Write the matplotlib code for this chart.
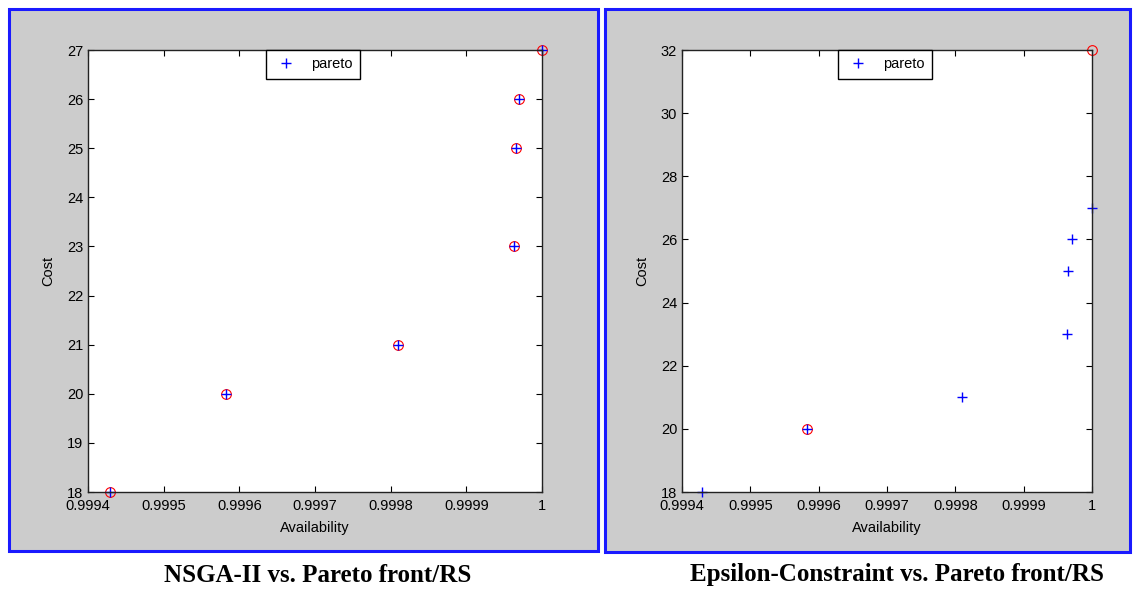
import matplotlib.pyplot as plt
from matplotlib.patches import Rectangle

# NSGA-II panel
nsga_avail = [0.999429, 0.999583, 0.99981, 0.999963, 0.999965, 0.99997, 1.0]
nsga_cost = [18, 20, 21, 23, 25, 26, 27]
rs_left_avail = [0.999429, 0.999583, 0.99981, 0.999963, 0.999965, 0.99997, 1.0]
rs_left_cost = [18, 20, 21, 23, 25, 26, 27]

# Epsilon-constraint panel
eps_avail = [0.999429, 0.999583, 0.99981, 0.999963, 0.999965, 0.99997, 1.0]
eps_cost = [18, 20, 21, 23, 25, 26, 27]
rs_right_avail = [0.999583, 1.0]
rs_right_cost = [20, 32]

x_ticks = [0.9994, 0.9995, 0.9996, 0.9997, 0.9998, 0.9999, 1.0]
x_labels = ["0.9994", "0.9995", "0.9996", "0.9997", "0.9998", "0.9999", "1"]
left_yticks = [18, 19, 20, 21, 22, 23, 24, 25, 26, 27]
right_yticks = [18, 20, 22, 24, 26, 28, 30, 32]

W, H = 1135, 590
plt.rcParams['font.family'] = ['Liberation Sans', 'DejaVu Sans']
fig = plt.figure(figsize=(W / 100, H / 100), dpi=100)


def px_rect(x0, y0, x1, y1):
    return [x0 / W, 1 - y1 / H, (x1 - x0) / W, (y1 - y0) / H]


# gray panels with blue frames, kept behind the axes
for x0, y0, x1, y1 in [(9, 9, 598, 551), (605, 9, 1130, 552)]:
    r = px_rect(x0, y0, x1, y1)
    fig.patches.append(Rectangle((r[0], r[1]), r[2], r[3], transform=fig.transFigure,
                                 facecolor="#cccccc", edgecolor="#1a1aff", linewidth=2.2,
                                 zorder=-5))


def draw_panel(box, px, py, rx, ry, yticks, ylim, leg_x, caption, cap_x):
    ax = fig.add_axes(px_rect(*box))
    ax.set_facecolor("white")
    ax.plot(rx, ry, 'o', markersize=7, markerfacecolor='none', markeredgecolor='red',
            markeredgewidth=0.8, clip_on=False)
    ax.plot(px, py, '+', markersize=7, color='blue', markeredgewidth=1.0,
            clip_on=False, label='pareto')
    ax.set_xlim(0.9994, 1.0)
    ax.set_ylim(*ylim)
    ax.set_xticks(x_ticks)
    ax.set_xticklabels(x_labels)
    ax.set_yticks(yticks)
    ax.tick_params(direction='in', length=4, top=True, right=True, labelsize=10.5)
    ax.tick_params(axis='x', pad=5)
    ax.tick_params(axis='y', pad=3.5)
    for s in ax.spines.values():
        s.set_linewidth(1.0)
        s.set_color('#222222')
    ax.set_xlabel("Availability", fontsize=10.5, labelpad=6)
    ax.set_ylabel("Cost", fontsize=10.5, labelpad=8)
    leg = ax.legend(loc='upper left', bbox_to_anchor=(leg_x, 1.0), fancybox=False,
                    framealpha=1, edgecolor='black', fontsize=10.5, borderaxespad=0,
                    handlelength=1.8, borderpad=0.5, handletextpad=0.8)
    leg.get_frame().set_linewidth(1.0)
    fig.text(cap_x / W, 1 - 575 / H, caption, ha='center', va='center',
             family=['Liberation Serif', 'DejaVu Serif'], fontweight='bold', fontsize=18)
    return ax


draw_panel((88, 50, 542, 492), nsga_avail, nsga_cost, rs_left_avail, rs_left_cost,
           left_yticks, (18, 27), 0.392, "NSGA-II vs. Pareto front/RS", 318)
draw_panel((682, 50, 1092, 492), eps_avail, eps_cost, rs_right_avail, rs_right_cost,
           right_yticks, (18, 32), 0.38, "Epsilon-Constraint vs. Pareto front/RS", 897)

fig.savefig("out.png", dpi=100)
